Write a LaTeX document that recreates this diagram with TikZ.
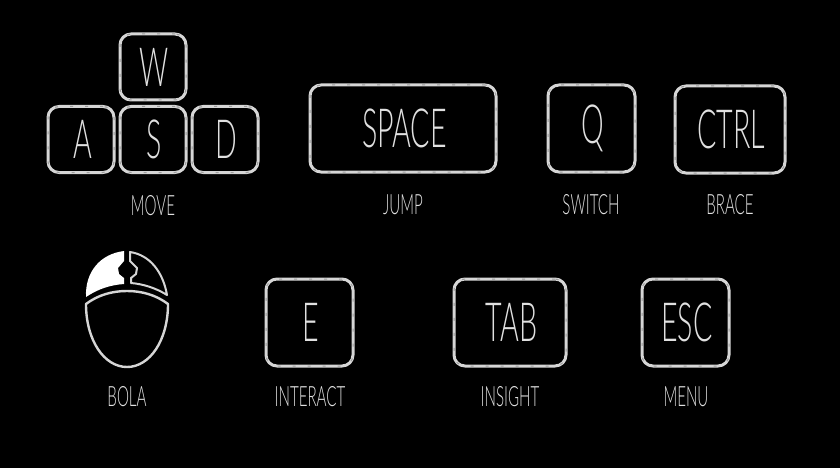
\documentclass[tikz,border=0pt]{standalone}
\usepackage{fontspec}
\newfontfamily\kf[FakeStretch=0.53]{Lato Light}
\newfontfamily\cf[FakeStretch=0.54]{Lato Light}
\definecolor{keyline}{gray}{0.84}
\definecolor{keyspot}{gray}{0.62}
\definecolor{keytext}{gray}{0.88}
\tikzset{
  keybox/.style={draw=keyline,line width=3pt,rounded corners=11pt,fill=black,text=keytext,
    inner sep=0pt,font=\kf\fontsize{54}{54}\selectfont,execute at begin node={\hspace*{3pt}},
    postaction={draw=keyspot,line width=1pt,dash pattern=on 3pt off 12pt}},
  caption/.style={text=keytext,inner sep=0pt,font=\cf\fontsize{28}{28}\selectfont},
  mouseline/.style={draw=keyline,line width=2.4pt,line join=round}
}
\begin{document}
\begin{tikzpicture}[x=1pt,y=-1pt]
\fill[black] (0,0) rectangle (840,468);
\useasboundingbox (0,0) rectangle (840,468);
% keys
\node[keybox,minimum width=66pt,minimum height=66pt] (w) at (153,67) {W};
\node[keybox,minimum width=66pt,minimum height=66pt] (a) at (81,139.5) {A};
\node[keybox,minimum width=66pt,minimum height=66pt] (s) at (153,139.5) {S};
\node[keybox,minimum width=66pt,minimum height=66pt] (d) at (225,139.5) {D};
\node[keybox,minimum width=186pt,minimum height=87pt] (space) at (403,128.5) {SPACE};
\node[keybox,minimum width=87pt,minimum height=87pt] (q) at (591.5,128.5) {Q};
\node[keybox,minimum width=110pt,minimum height=87pt] (ctrl) at (730,129.5) {CTRL};
\node[keybox,minimum width=87pt,minimum height=87pt] (e) at (309.5,322.5) {E};
\node[keybox,minimum width=112pt,minimum height=87pt] (tab) at (510,322.5) {TAB};
\node[keybox,minimum width=87pt,minimum height=87pt] (esc) at (685.5,322.5) {ESC};
% captions
\node[caption] (move) at (153,206) {MOVE};
\node[caption] (jump) at (403,205) {JUMP};
\node[caption] (switch) at (591,205) {SWITCH};
\node[caption] (brace) at (730,205) {BRACE};
\node[caption] (bola) at (127,397) {BOLA};
\node[caption] (interact) at (310,397) {INTERACT};
\node[caption] (insight) at (510,397) {INSIGHT};
\node[caption] (menu) at (686,397) {MENU};
% mouse
\draw[mouseline] (86,304) .. controls (98,295) and (112,291) .. (127,291)
  .. controls (142,291) and (156,295) .. (168,304)
  .. controls (168,340) and (150,367) .. (127,367)
  .. controls (104,367) and (86,340) .. (86,304) -- cycle;
\fill[white] (124,251) .. controls (100,254) and (85,272) .. (86,297)
  .. controls (98,289) and (110,285) .. (124,284)
  -- (124,278) -- (119,274) -- (118,268) -- (124,261) -- cycle;
\draw[mouseline,line width=2pt] (130,252) .. controls (150,255) and (163,272) .. (167,295)
  .. controls (156,288) and (143,284) .. (131,283)
  -- (131,278) -- (136,274) -- (137,268) -- (130,261) -- cycle;
\end{tikzpicture}
\end{document}
